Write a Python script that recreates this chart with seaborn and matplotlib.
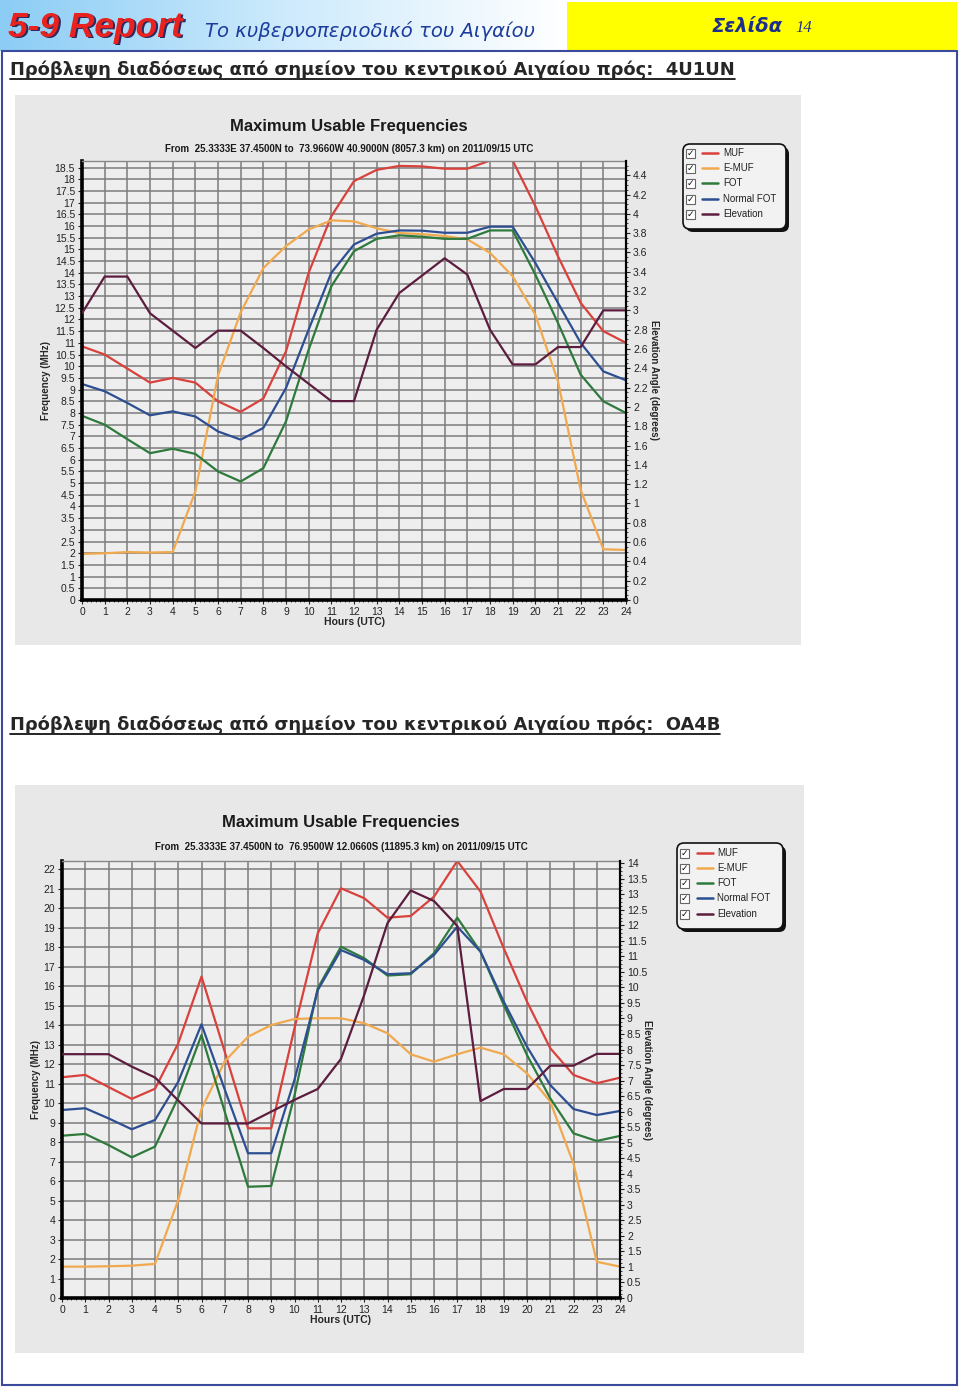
import numpy as np
import matplotlib.pyplot as plt
import pandas as pd
import seaborn as sns
from matplotlib.patches import Rectangle, FancyBboxPatch
from matplotlib.colors import LinearSegmentedColormap
from matplotlib.ticker import MultipleLocator, FuncFormatter

# ---- data ----
hours = list(range(25))
series_names = ['MUF', 'E-MUF', 'FOT', 'Normal FOT', 'Elevation']

# 4U1UN
c1_muf = [10.85, 10.5, 9.9, 9.3, 9.5, 9.3, 8.5, 8.05, 8.62, 10.64, 14.0, 16.42, 17.92,
          18.4, 18.57, 18.55, 18.45, 18.45, 18.8, 18.8, 16.85, 14.7, 12.71, 11.5, 11.0]
c1_emuf = [1.97, 2.0, 2.05, 2.03, 2.05, 4.64, 9.6, 12.3, 14.2, 15.14, 15.85, 16.24, 16.2,
           15.9, 15.7, 15.65, 15.57, 15.43, 14.85, 13.85, 12.2, 9.35, 4.71, 2.17, 2.14]
c1_fot = [7.88, 7.5, 6.88, 6.28, 6.47, 6.25, 5.5, 5.07, 5.64, 7.64, 10.71, 13.42, 14.92,
          15.45, 15.6, 15.54, 15.45, 15.45, 15.81, 15.81, 13.92, 11.85, 9.64, 8.5, 8.0]
c1_nfot = [9.24, 8.93, 8.43, 7.9, 8.07, 7.85, 7.21, 6.86, 7.36, 9.07, 11.57, 14.0, 15.21,
           15.67, 15.81, 15.8, 15.71, 15.71, 15.97, 15.97, 14.42, 12.71, 11.0, 9.78, 9.4]
c1_elev = [2.97, 3.35, 3.35, 2.97, 2.79, 2.61, 2.79, 2.79, 2.61, 2.42, 2.24, 2.06, 2.06,
           2.80, 3.18, 3.36, 3.54, 3.37, 2.80, 2.44, 2.44, 2.62, 2.62, 3.0, 3.0]

# OA4B
c2_muf = [11.33, 11.45, 10.83, 10.22, 10.74, 13.07, 16.5, 12.64, 8.71, 8.71, 13.85, 18.72, 21.03,
          20.52, 19.52, 19.61, 20.6, 22.43, 20.86, 17.95, 15.21, 12.82, 11.45, 11.02, 11.31]
c2_emuf = [1.61, 1.61, 1.63, 1.66, 1.75, 5.03, 9.7, 12.15, 13.41, 14.01, 14.32, 14.36, 14.36,
           14.1, 13.59, 12.51, 12.13, 12.51, 12.85, 12.51, 11.53, 10.08, 6.9, 1.86, 1.61]
c2_fot = [8.33, 8.42, 7.85, 7.22, 7.77, 10.3, 13.5, 9.56, 5.71, 5.75, 10.4, 15.9, 18.03,
          17.44, 16.55, 16.62, 17.7, 19.52, 17.78, 15.04, 12.47, 10.25, 8.45, 8.06, 8.32]
c2_nfot = [9.65, 9.74, 9.22, 8.66, 9.14, 11.1, 14.05, 10.7, 7.43, 7.43, 11.2, 15.8, 17.86,
           17.35, 16.62, 16.67, 17.61, 19.06, 17.78, 15.21, 12.9, 10.93, 9.7, 9.39, 9.6]
c2_elev = [7.85, 7.85, 7.85, 7.45, 7.1, 6.36, 5.62, 5.62, 5.62, 6.0, 6.38, 6.73, 7.7,
           9.76, 12.07, 13.12, 12.78, 11.98, 6.34, 6.73, 6.73, 7.48, 7.48, 7.86, 7.86]

colors = {'MUF': '#d8413c', 'E-MUF': '#f0a94e', 'FOT': '#2e7a3c',
          'Normal FOT': '#2d4f91', 'Elevation': '#5c1d3e'}

sns.set_theme(style='white')
plt.rcParams['font.family'] = ['Liberation Sans', 'DejaVu Sans']

W, H = 960, 1387
fig = plt.figure(figsize=(W / 100, H / 100), dpi=100)
fig.patch.set_facecolor('white')

bg = fig.add_axes([0, 0, 1, 1])
bg.axis('off')

# header
cmap = LinearSegmentedColormap.from_list('hdr', ['#8ccdf5', '#cdeafc', '#ffffff'])
bg.imshow(np.linspace(0, 1, 256).reshape(1, -1), extent=[0, 567, 51, 0], cmap=cmap, aspect='auto')
bg.set_xlim(0, W)
bg.set_ylim(H, 0)
bg.add_patch(Rectangle((567, 2), 390, 48, fc='#ffff00', ec='none'))
bg.add_patch(Rectangle((2, 51), 955, 1334, fill=False, ec='#3a4a9c', lw=1.5))

bg.text(10, 28.5, '5-9 Report', color='#2a2a60', fontsize=25.5, fontweight='bold', style='italic', va='center')
bg.text(8.5, 27, '5-9 Report', color='#e8231f', fontsize=25.5, fontweight='bold', style='italic', va='center')
bg.text(205, 31, 'Το κυβερνοπεριοδικό του Αιγαίου', color='#1c3c9c', fontsize=14.1, style='italic',
        va='center', family=['DejaVu Sans'])
bg.text(712, 27, 'Σελίδα', color='#1c2f8c', fontsize=14, fontweight='bold', style='italic', va='center',
        family=['DejaVu Sans'])
bg.text(795, 28, '14', color='#1c2f8c', fontsize=12, style='italic', va='center', family=['Liberation Serif'])

subs = []
subs.append(bg.text(10, 70, 'Πρόβλεψη διαδόσεως από σημείον του κεντρικού Αιγαίου πρός:  4U1UN',
                    fontsize=12.9, fontweight='bold', va='center', family=['DejaVu Sans']))
subs.append(bg.text(10, 725, 'Πρόβλεψη διαδόσεως από σημείον του κεντρικού Αιγαίου πρός:  OA4B',
                    fontsize=12.9, fontweight='bold', va='center', family=['DejaVu Sans']))

# grey picture panels
bg.add_patch(Rectangle((15, 95), 786, 550, fc='#e8e8e8', ec='none'))
bg.add_patch(Rectangle((15, 785), 789, 568, fc='#e8e8e8', ec='none'))

fmt = FuncFormatter(lambda v, p: f'{v:g}')


def draw_chart(box, muf, emuf, fot, nfot, elev, ytop, ystep, ytop_r, rstep, lab_x, rlab_x):
    left, top, right, bottom = box
    ax = fig.add_axes([left / W, 1 - bottom / H, (right - left) / W, (bottom - top) / H])
    ax.set_facecolor('#eeeeee')
    df = pd.DataFrame({
        'hour': hours * 4,
        'MHz': muf + emuf + fot + nfot,
        'series': sum([[n] * 25 for n in series_names[:4]], []),
    })
    sns.lineplot(data=df, x='hour', y='MHz', hue='series', palette=colors,
                 ax=ax, legend=False, linewidth=1.6)
    ax.set_xlim(0, 24)
    ax.set_ylim(0, ytop)
    ax.set_xticks(hours)
    ax.yaxis.set_major_locator(MultipleLocator(ystep))
    ax.yaxis.set_major_formatter(fmt)
    ax.xaxis.set_minor_locator(MultipleLocator(0.2))
    ax.yaxis.set_minor_locator(MultipleLocator(ystep / 4))
    ax.grid(True, which='major', color='#7c7c7c', lw=1.1)
    ax.set_axisbelow(True)
    ax.tick_params(which='major', left=True, bottom=True, length=3, width=0.8,
                   labelsize=7.5, colors='#222222', pad=2)
    ax.tick_params(which='minor', left=True, bottom=True, length=1.5, width=0.6, color='#222222')
    for s, lw, c in [('left', 2.6, 'black'), ('bottom', 2.6, 'black'), ('right', 1.5, 'black'), ('top', 1.0, '#888888')]:
        ax.spines[s].set_visible(True)
        ax.spines[s].set_linewidth(lw)
        ax.spines[s].set_color(c)
    ax.set_xlabel('Hours (UTC)', fontsize=7.5, fontweight='bold', va='center')
    ax.xaxis.set_label_coords(0.5, -22 / (bottom - top))
    ax.set_ylabel('Frequency (MHz)', fontsize=7, fontweight='bold', va='center')
    ax.yaxis.set_label_coords((lab_x - left) / (right - left), 0.5)

    axr = ax.twinx()
    sns.lineplot(x=hours, y=elev, color=colors['Elevation'], ax=axr, linewidth=1.6)
    axr.set_ylim(0, ytop_r)
    axr.yaxis.set_major_locator(MultipleLocator(rstep))
    axr.yaxis.set_major_formatter(fmt)
    axr.yaxis.set_minor_locator(MultipleLocator(rstep / 4))
    axr.grid(False)
    axr.tick_params(which='major', right=True, length=3, width=0.8, labelsize=7.5,
                    colors='#222222', pad=2)
    axr.tick_params(which='minor', right=True, length=1.5, width=0.6, color='#222222')
    for s in ['left', 'bottom', 'top']:
        axr.spines[s].set_visible(False)
    axr.spines['right'].set_linewidth(1.5)
    axr.spines['right'].set_color('black')
    axr.set_ylabel('Elevation Angle (degrees)', fontsize=7, fontweight='bold', rotation=-90, va='center')
    axr.yaxis.set_label_coords((rlab_x - left) / (right - left), 0.5)
    return ax


def draw_legend(x0, y0, w, h, ys, cb_x, line_x, text_x):
    bg.add_patch(FancyBboxPatch((x0 + 3, y0 + 3), w, h, boxstyle='round,pad=0,rounding_size=7',
                                fc='#111111', ec='none'))
    bg.add_patch(FancyBboxPatch((x0, y0), w, h, boxstyle='round,pad=0,rounding_size=7',
                                fc='#f2f2f2', ec='#111111', lw=1.2))
    for name, y in zip(series_names, ys):
        bg.add_patch(Rectangle((cb_x, y - 4.5), 9, 9, fc='white', ec='#666666', lw=0.8))
        bg.text(cb_x + 4.5, y + 0.5, '✓', fontsize=6.5, ha='center', va='center',
                family=['DejaVu Sans'], color='#111111')
        bg.plot([line_x, line_x + 16], [y, y], color=colors[name], lw=1.8)
        bg.text(text_x, y, name, fontsize=7, va='center', color='#222222')


draw_chart((82, 161, 626, 600), c1_muf, c1_emuf, c1_fot, c1_nfot, c1_elev,
           18.78, 0.5, 4.547, 0.2, 46, 654)
draw_chart((62, 861, 620, 1298), c2_muf, c2_emuf, c2_fot, c2_nfot, c2_elev,
           22.43, 1, 14.07, 0.5, 36, 647)

bg.text(349, 126, 'Maximum Usable Frequencies', fontsize=12, fontweight='bold', ha='center', va='center', color='#1a1a1a')
bg.text(349, 149, 'From  25.3333E 37.4500N to  73.9660W 40.9000N (8057.3 km) on 2011/09/15 UTC',
        fontsize=7, fontweight='bold', ha='center', va='center', color='#1a1a1a')
bg.text(341, 823, 'Maximum Usable Frequencies', fontsize=12, fontweight='bold', ha='center', va='center', color='#1a1a1a')
bg.text(341, 847, 'From  25.3333E 37.4500N to  76.9500W 12.0660S (11895.3 km) on 2011/09/15 UTC',
        fontsize=7, fontweight='bold', ha='center', va='center', color='#1a1a1a')

draw_legend(683, 144, 103, 85, [153, 168, 183, 199, 214], 686, 702, 723)
draw_legend(677, 843, 106, 86, [853, 868, 883, 898, 914], 680, 697, 717)

# underline the two headings
fig.canvas.draw()
r = fig.canvas.get_renderer()
for t, y in zip(subs, [79, 734]):
    bb = t.get_window_extent(r)
    bg.plot([bb.x0, bb.x1], [y, y], color='black', lw=1.2)

fig.savefig('out.png', dpi=100)
